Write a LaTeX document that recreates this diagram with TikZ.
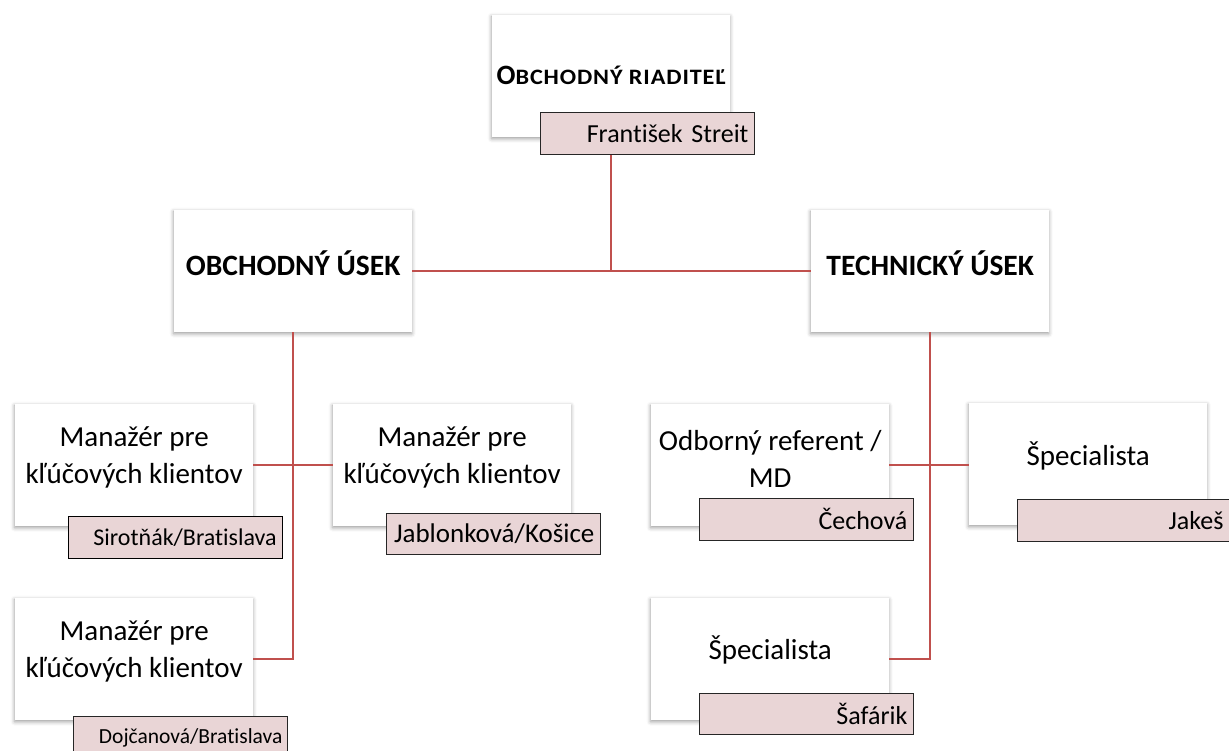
\documentclass[tikz,border=0pt]{standalone}
\usepackage{fontspec}
\setmainfont{Carlito}[Ligatures=NoCommon]
\newfontfamily\scfake{Carlito}[Ligatures=NoCommon, FakeStretch=1.1, LetterSpace=4]
\usetikzlibrary{shadows.blur}
\definecolor{linered}{RGB}{192,80,77}
\definecolor{namefill}{RGB}{233,213,214}
\begin{document}
\begin{tikzpicture}[x=1pt,y=-1pt,
  box/.style={fill=white, draw=none, anchor=north west, inner sep=0pt,
    minimum width=238pt, minimum height=122pt,
    blur shadow={shadow xshift=-0.5pt, shadow yshift=-1.5pt, shadow blur radius=4pt, shadow opacity=40}},
  namebox/.style={draw=black!85, line width=0.8pt, fill=namefill, anchor=north west,
    inner xsep=6pt, inner ysep=0pt, minimum height=42pt, text width=202pt, align=right,
    font=\fontsize{26}{30}\selectfont},
  lbl/.style={align=center, inner sep=0pt, font=\fontsize{29}{37}\selectfont},
  ttl/.style={align=center, inner sep=0pt, font=\fontsize{29.5}{34}\selectfont\bfseries},
  conn/.style={draw=linered, line width=1.5pt}]
\useasboundingbox (0,0) rectangle (1229,751);

% boxes
\node[box] (root) at (492,15) {};
\node[box] (ou) at (174,210) {};
\node[box] (tu) at (811,210) {};
\node[box] (m1) at (15,404) {};
\node[box] (m2) at (333,404) {};
\node[box] (m3) at (15,598) {};
\node[box] (or) at (651,404) {};
\node[box] (sp1) at (969,403) {};
\node[box] (sp2) at (651,598) {};

% connectors
\draw[conn] (root.south) -- (root.south |- ou.east);
\draw[conn] (ou.east) -- (tu.west);
\draw[conn] (ou.south) -- (ou.south |- m3.east) -- (m3.east);
\draw[conn] (m1.east) -- (m2.west);
\draw[conn] (tu.south) -- (tu.south |- sp2.east) -- (sp2.east);
\draw[conn] (or.east) -- (or.east -| sp1.west);

% titles
\node[inner sep=0pt, font=\bfseries] (roott) at ([yshift=1pt]root.center)
  {{\fontsize{28}{30}\selectfont O}{\scfake\bfseries\fontsize{22}{30}\selectfont BCHODNÝ RIADITEĽ}};
\node[ttl] (out) at ([yshift=8pt]ou.center) {OBCHODNÝ ÚSEK};
\node[ttl] (tut) at ([yshift=8pt]tu.center) {TECHNICKÝ ÚSEK};
\node[lbl] (m1t) at ([yshift=8pt]m1.center) {Manažér pre\\kľúčových klientov};
\node[lbl] (m2t) at ([yshift=8pt]m2.center) {Manažér pre\\kľúčových klientov};
\node[lbl] (m3t) at ([yshift=8pt]m3.center) {Manažér pre\\kľúčových klientov};
\node[lbl] (ort) at ([yshift=6pt]or.center) {Odborný referent /\\MD};
\node[lbl] (sp1t) at ([yshift=8pt]sp1.center) {Špecialista};
\node[lbl] (sp2t) at ([yshift=9pt]sp2.center) {Špecialista};

% name boxes
\node[namebox] (n0) at (540,112) {František Streit};
\node[namebox, line width=1.4pt, draw=black, font=\fontsize{24}{28}\selectfont] (n1) at (68,516) {Sirotňák/Bratislava};
\node[namebox, minimum height=41pt, font=\fontsize{27}{30}\selectfont] (n2) at (386,513) {Jablonková/Košice};
\node[namebox, text width=204pt, inner xsep=5pt, font=\fontsize{21.5}{26}\selectfont, minimum height=42pt] (n3) at (73,716) {Dojčanová/Bratislava\vphantom{Ag}\\[-2pt]};
\node[namebox] (n4) at (699,498) {Čechová};
\node[namebox, text width=210pt] (n5) at (1017,499) {Jakeš\kern10pt};
\node[namebox, minimum height=41pt] (n6) at (699,693) {Šafárik};
\end{tikzpicture}
\end{document}
